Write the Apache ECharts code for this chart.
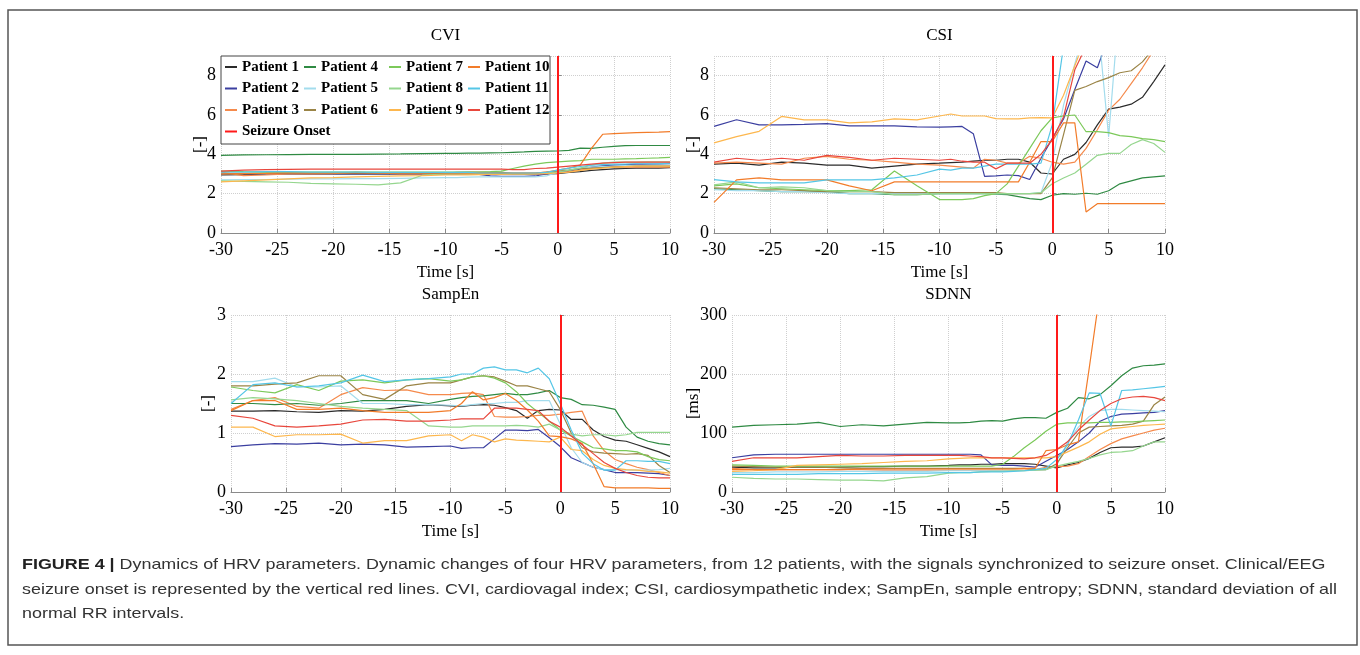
<!DOCTYPE html>
<html>
<head>
<meta charset="utf-8">
<title>Dynamics of HRV parameters</title>
<script src="https://cdn.jsdelivr.net/npm/echarts@6/dist/echarts.min.js"></script>
<style>
  html, body { margin: 0; padding: 0; background: #fff; }
  #chart { width: 1360px; height: 655px; }
</style>
</head>
<body>
<div id="chart"></div>
<script>
// time axis (s), synced to seizure onset
const times = [-30, -28, -26, -24, -22, -20, -18, -16, -14, -12, -10,
  -9, -8, -7, -6, -5, -4, -3, -2, -1, 0,
  1, 2, 3, 4, 5, 6, 7, 8, 9, 10];
const onsetTime = 0;

const patients = ['Patient 1', 'Patient 2', 'Patient 3', 'Patient 4', 'Patient 5', 'Patient 6',
  'Patient 7', 'Patient 8', 'Patient 9', 'Patient 10', 'Patient 11', 'Patient 12'];
const patientColors = ['#2b2b2b', '#3b3fa0', '#f58a4c', '#2f8a43', '#a3dced', '#9a8446',
  '#7cc95a', '#95d68e', '#fdb74e', '#f27c2a', '#55c6e6', '#e8473d'];
const onsetName = 'Seizure Onset';

// one row per patient (null = off the top of the axis)
const cviValues = [
  [2.95, 2.97, 3.0, 3.0, 3.0, 3.0, 3.02, 3.0, 3.0, 3.0, 3.0, 3.0, 3.0, 3.02, 3.02, 3.02, 3.0, 3.0, 3.0, 3.0, 3.02, 3.08, 3.12, 3.18, 3.22, 3.26, 3.28, 3.3, 3.3, 3.3, 3.32],
  [3.0, 3.0, 3.02, 3.02, 3.0, 3.0, 3.0, 3.0, 3.0, 3.0, 3.0, 3.0, 3.0, 2.98, 2.9, 2.88, 2.88, 2.88, 2.9, 3.0, 3.08, 3.15, 3.25, 3.35, 3.42, 3.45, 3.48, 3.5, 3.5, 3.5, 3.52],
  [3.1, 2.92, 2.95, 3.0, 3.0, 3.02, 3.1, 3.05, 3.0, 3.0, 3.0, 3.0, 3.02, 3.02, 3.02, 3.0, 3.0, 3.0, 3.0, 3.02, 3.05, 3.12, 3.2, 3.28, 3.32, 3.35, 3.35, 3.35, 3.35, 3.35, 3.35],
  [3.95, 3.97, 3.98, 3.99, 4.0, 4.0, 4.0, 4.01, 4.02, 4.04, 4.05, 4.05, 4.06, 4.06, 4.07, 4.08, 4.1, 4.12, 4.15, 4.16, 4.17, 4.2, 4.32, 4.3, 4.36, 4.4, 4.44, 4.45, 4.45, 4.45, 4.45],
  [2.7, 2.72, 2.72, 2.74, 2.75, 2.75, 2.76, 2.76, 2.78, 2.8, 2.82, 2.82, 2.84, 2.85, 2.85, 2.85, 2.85, 2.85, 2.85, 2.9, 3.1, 3.2, 3.3, 3.35, 3.38, 3.4, 3.42, 3.42, 3.44, 3.45, 3.45],
  [3.0, 3.02, 3.05, 3.05, 3.05, 3.05, 3.05, 3.05, 3.05, 3.05, 3.05, 3.08, 3.1, 3.1, 3.08, 3.08, 3.05, 3.05, 3.05, 3.1, 3.15, 3.2, 3.28, 3.3, 3.33, 3.36, 3.38, 3.4, 3.4, 3.4, 3.4],
  [3.15, 3.12, 3.1, 3.1, 3.1, 3.1, 3.1, 3.1, 3.1, 3.1, 3.1, 3.1, 3.1, 3.1, 3.12, 3.15, 3.28, 3.4, 3.5, 3.58, 3.62, 3.65, 3.68, 3.75, 3.75, 3.75, 3.77, 3.78, 3.8, 3.82, 3.85],
  [2.65, 2.62, 2.6, 2.58, 2.52, 2.5, 2.48, 2.45, 2.55, 2.95, 3.0, 3.0, 3.0, 3.0, 3.0, 3.0, 3.0, 3.0, 3.02, 3.05, 3.1, 3.2, 3.3, 3.45, 3.55, 3.6, 3.6, 3.6, 3.62, 3.62, 3.62],
  [2.6, 2.65, 2.7, 2.75, 2.8, 2.82, 2.85, 2.88, 2.9, 2.92, 2.95, 2.95, 2.96, 2.97, 2.98, 2.98, 3.0, 3.0, 3.02, 3.03, 3.05, 3.1, 3.18, 3.25, 3.3, 3.35, 3.38, 3.4, 3.4, 3.4, 3.4],
  [3.0, 3.02, 3.03, 3.05, 3.05, 3.05, 3.05, 3.05, 3.05, 3.05, 3.05, 3.05, 3.05, 3.05, 3.05, 3.05, 3.05, 3.05, 3.05, 3.1, 3.2, 3.3, 3.45, 4.3, 5.02, 5.05, 5.08, 5.1, 5.12, 5.13, 5.15],
  [3.1, 3.1, 3.12, 3.12, 3.1, 3.1, 3.1, 3.08, 3.08, 3.08, 3.08, 3.08, 3.08, 3.05, 3.05, 3.05, 3.05, 3.05, 3.05, 3.08, 3.2, 3.3, 3.38, 3.45, 3.48, 3.5, 3.5, 3.52, 3.52, 3.53, 3.55],
  [3.15, 3.2, 3.22, 3.24, 3.25, 3.25, 3.25, 3.25, 3.25, 3.25, 3.25, 3.25, 3.25, 3.25, 3.25, 3.25, 3.22, 3.22, 3.28, 3.3, 3.35, 3.4, 3.45, 3.5, 3.55, 3.58, 3.6, 3.6, 3.6, 3.6, 3.6]
];

const csiValues = [
  [3.5, 3.55, 3.45, 3.6, 3.55, 3.45, 3.45, 3.3, 3.4, 3.5, 3.55, 3.58, 3.6, 3.65, 3.7, 3.7, 3.75, 3.75, 3.6, 3.05, 3.0, 3.75, 4.0, 4.6, 5.5, 6.3, 6.4, 6.55, 6.9, 7.7, 8.55],
  [5.42, 5.76, 5.5, 5.5, 5.52, 5.56, 5.45, 5.45, 5.45, 5.4, 5.38, 5.4, 5.42, 5.05, 2.88, 2.9, 2.95, 2.92, 2.72, 3.8, 4.8, 5.8, 7.3, 8.75, 8.4, 10, null, null, null, null, null],
  [3.55, 3.6, 3.55, 3.5, 3.8, 3.9, 3.75, 3.7, 3.6, 3.5, 3.45, 3.4, 3.35, 3.3, 3.75, 3.7, 3.55, 3.55, 3.9, 3.8, 3.6, 3.5, 3.6, 4.3, 5.25, 6.25, 6.8, 7.6, 8.4, 9.3, null],
  [2.25, 2.2, 2.15, 2.1, 2.1, 2.1, 2.0, 2.0, 1.95, 1.95, 2.0, 2.0, 2.0, 2.0, 2.0, 1.98, 1.95, 1.85, 1.75, 1.7, 1.92, 2.0, 1.97, 2.02, 1.97, 2.15, 2.5, 2.65, 2.8, 2.85, 2.9],
  [2.2, 2.15, 2.15, 2.1, 2.1, 2.05, 2.0, 2.0, 2.0, 2.0, 2.0, 2.0, 2.0, 2.0, 2.0, 2.0, 2.0, 2.0, 2.0, 2.05, 3.6, 6.5, 8.6, 10.5, 11, 4.9, 12, null, null, null, null],
  [2.3, 2.25, 2.2, 2.2, 2.15, 2.1, 2.1, 2.1, 2.05, 2.05, 2.05, 2.05, 2.05, 2.05, 2.05, 2.05, 2.0, 2.0, 2.0, 2.0, 2.8, 5.0, 7.25, 7.45, 7.7, 7.9, 8.15, 8.25, 8.7, 9.4, null],
  [2.4, 2.5, 2.3, 2.25, 2.2, 2.15, 2.15, 2.2, 3.15, 2.4, 1.7, 1.7, 1.7, 1.75, 1.9, 2.0, 2.5, 3.4, 4.3, 5.2, 5.85, 5.95, 6.0, 5.15, 5.15, 5.1, 4.95, 4.9, 4.8, 4.75, 4.65],
  [2.45, 2.6, 2.3, 2.35, 2.3, 2.15, 2.1, 2.1, 1.95, 1.95, 2.0, 2.0, 2.0, 2.0, 2.0, 2.0, 2.0, 2.0, 2.0, 2.05, 2.5, 2.8, 3.05, 3.5, 3.95, 4.05, 4.05, 4.5, 4.75, 4.55, 4.1],
  [4.58, 4.9, 5.17, 5.93, 5.75, 5.75, 5.6, 5.65, 5.8, 5.75, 5.95, 6.05, 5.95, 5.95, 5.95, 5.82, 5.8, 5.8, 5.85, 5.87, 5.85, 7.0, 8.5, 10, null, null, null, null, null, null, null],
  [1.56, 2.7, 2.8, 2.7, 2.7, 2.7, 2.4, 2.15, 2.6, 2.6, 2.6, 2.6, 2.6, 2.6, 2.6, 2.6, 2.6, 2.6, 3.6, 4.65, 4.65, 5.6, 5.6, 1.07, 1.49, 1.49, 1.49, 1.49, 1.49, 1.49, 1.49],
  [2.71, 2.6, 2.55, 2.55, 2.55, 2.7, 2.7, 2.7, 2.8, 2.95, 3.25, 3.2, 3.3, 3.3, 3.4, 3.5, 3.5, 3.5, 3.5, 3.55, 5.5, 9.5, null, null, null, null, null, null, null, null, null],
  [3.6, 3.8, 3.7, 3.8, 3.7, 3.95, 3.85, 3.7, 3.8, 3.75, 3.7, 3.75, 3.65, 3.6, 3.6, 3.26, 3.55, 3.55, 3.55, 4.0, 4.75, 5.9, 8.3, 9.5, null, null, null, null, null, null, null]
];

const sampEnValues = [
  [1.37, 1.37, 1.38, 1.36, 1.35, 1.38, 1.37, 1.4, 1.45, 1.48, 1.46, 1.45, 1.47, 1.48, 1.47, 1.43, 1.38, 1.25, 1.38, 1.4, 1.39, 1.23, 1.23, 1.05, 0.94, 0.88, 0.86, 0.8, 0.74, 0.68, 0.6],
  [0.77, 0.8, 0.82, 0.81, 0.83, 0.8, 0.81, 0.8, 0.76, 0.77, 0.78, 0.74, 0.75, 0.75, 0.9, 1.05, 1.05, 1.04, 1.06, 0.92, 0.77, 0.58, 0.5, 0.42, 0.38, 0.33, 0.33, 0.33, 0.32, 0.31, 0.28],
  [1.4, 1.55, 1.6, 1.45, 1.42, 1.65, 1.77, 1.72, 1.73, 1.65, 1.65, 1.67, 1.68, 1.65, 1.28, 1.27, 1.27, 1.28, 1.3, 1.3, 1.32, 1.35, 1.37, 0.95, 0.7, 0.55, 0.48, 0.42, 0.38, 0.33, 0.28],
  [1.5, 1.5, 1.48, 1.5, 1.47, 1.5, 1.55, 1.55, 1.55, 1.5, 1.57, 1.6, 1.62, 1.63, 1.65, 1.67, 1.65, 1.65, 1.68, 1.72, 1.6, 1.57, 1.48, 1.47, 1.44, 1.4, 1.1, 0.93, 0.86, 0.82, 0.8],
  [1.87, 1.87, 1.93, 1.78, 1.78, 1.8, 1.5, 1.5, 1.48, 1.48, 1.47, 1.46, 1.48, 1.5, 1.5, 1.52, 1.52, 1.55, 1.55, 1.55, 1.15, 0.75, 0.5, 0.42, 0.38, 0.38, 0.37, 0.37, 0.37, 0.38, 0.4],
  [1.8, 1.8, 1.83, 1.85, 1.97, 1.97, 1.65, 1.57, 1.8, 1.85, 1.85, 1.9, 1.95, 1.97, 1.95, 1.88, 1.8, 1.8, 1.75, 1.7, 1.4, 1.0, 0.75, 0.68, 0.66, 0.65, 0.64, 0.65, 0.62, 0.45, 0.33],
  [1.78, 1.72, 1.68, 1.82, 1.72, 1.88, 1.9, 1.85, 1.9, 1.92, 1.88, 1.9, 1.95, 1.97, 1.93, 1.85, 1.7, 1.5, 1.35, 1.2, 1.05, 0.95, 0.85, 0.75, 0.73, 0.7, 0.7, 0.68, 0.6, 0.55, 0.53],
  [1.56, 1.6, 1.58, 1.55, 1.5, 1.45, 1.42, 1.4, 1.38, 1.12, 1.1, 1.1, 1.12, 1.12, 1.12, 1.12, 1.13, 1.12, 1.1, 1.15, 1.05, 0.98, 0.95, 0.97, 0.97, 0.95, 0.97, 1.01, 1.01, 1.01, 1.01],
  [1.1, 1.1, 0.94, 0.97, 0.97, 0.98, 0.83, 0.87, 0.87, 0.95, 0.97, 0.87, 0.97, 0.93, 0.85, 0.9, 0.88, 0.87, 0.86, 0.85, 0.93, 0.72, 0.7, 0.55, 0.45, 0.4, 0.38, 0.37, 0.35, 0.34, 0.32],
  [1.38, 1.55, 1.55, 1.4, 1.4, 1.42, 1.38, 1.35, 1.35, 1.35, 1.38, 1.5, 1.7, 1.56, 1.6, 1.67, 1.55, 1.39, 1.2, 0.95, 0.94, 0.9, 0.82, 0.48, 0.09, 0.07, 0.07, 0.07, 0.07, 0.06, 0.06],
  [1.5, 1.82, 1.85, 1.78, 1.8, 1.85, 1.98, 1.87, 1.9, 1.92, 1.95, 2.0, 2.0, 2.1, 2.12, 2.07, 2.07, 2.02, 2.1, 1.92, 1.5, 1.05, 0.66, 0.48, 0.37, 0.37, 0.53, 0.53, 0.52, 0.52, 0.48],
  [1.3, 1.25, 1.12, 1.1, 1.12, 1.15, 1.22, 1.23, 1.2, 1.2, 1.22, 1.24, 1.24, 1.24, 1.42, 1.42, 1.42, 1.4, 1.38, 1.2, 1.1, 0.95, 0.8, 0.65, 0.5, 0.4, 0.33, 0.28, 0.25, 0.24, 0.24]
];

const sdnnValues = [
  [42, 41, 41, 42, 42, 42, 43, 43, 44, 44, 45, 46, 46, 47, 47, 48, 48, 48, 47, 44, 41, 46, 50, 57, 67, 75, 76, 76, 78, 85, 92],
  [58, 63, 64, 64, 64, 64, 64, 64, 64, 64, 64, 64, 64, 63, 46, 45, 45, 44, 42, 52, 62, 72, 85, 100, 120, 128, 132, 133, 134, 135, 138],
  [40, 38, 38, 38, 38, 38, 38, 37, 37, 37, 37, 37, 37, 37, 37, 37, 37, 37, 38, 42, 43, 44, 48, 60, 72, 82, 90, 95, 100, 105, 108],
  [110, 113, 114, 115, 118, 111, 114, 112, 115, 118, 117, 117, 118, 120, 121, 120, 124, 126, 126, 125, 135, 142, 160, 158, 165, 180, 197, 210, 214, 215, 217],
  [33, 33, 34, 34, 34, 35, 35, 35, 35, 35, 36, 36, 36, 36, 36, 36, 36, 36, 37, 38, 45, 85, 110, 128, 138, 140, 140, 139, 138, 137, 136],
  [44, 43, 42, 42, 42, 41, 40, 40, 40, 40, 40, 40, 40, 40, 40, 40, 40, 40, 38, 38, 48, 75, 100, 110, 111, 112, 113, 115, 120, 148, 161],
  [46, 45, 44, 44, 44, 44, 44, 44, 44, 44, 44, 44, 44, 44, 44, 47, 60, 75, 88, 103, 115, 117, 117, 117, 118, 118, 119, 119, 120, 121, 122],
  [25, 23, 22, 22, 21, 20, 20, 19, 24, 26, 32, 33, 33, 34, 35, 35, 36, 36, 37, 38, 44, 48, 52, 57, 63, 67, 68, 70, 78, 85, 85],
  [35, 36, 38, 45, 46, 47, 48, 50, 52, 53, 56, 57, 58, 58, 58, 58, 58, 58, 58, 58, 60, 68, 76, 85, 98, 107, 109, 111, 113, 114, 115],
  [38, 38, 38, 38, 38, 38, 39, 39, 39, 39, 39, 39, 39, 39, 39, 39, 39, 40, 40, 70, 72, 80, 85, 210, 340, null, null, null, null, null, null],
  [30, 30, 30, 30, 31, 31, 31, 32, 32, 32, 33, 33, 33, 34, 34, 34, 35, 36, 38, 40, 55, 80, 122, 168, 167, 112, 172, 173, 175, 177, 179],
  [52, 58, 58, 58, 60, 62, 61, 61, 62, 62, 62, 62, 61, 60, 58, 58, 57, 56, 58, 62, 72, 85, 105, 122, 138, 150, 158, 161, 162, 160, 155]
];

const captionLines = [
  'Dynamics of HRV parameters. Dynamic changes of four HRV parameters, from 12 patients, with the signals synchronized to seizure onset. Clinical/EEG',
  'seizure onset is represented by the vertical red lines. CVI, cardiovagal index; CSI, cardiosympathetic index; SampEn, sample entropy; SDNN, standard deviation of all',
  'normal RR intervals.'
];

const serif = '"Liberation Serif", "Times New Roman", serif';
const sans = '"Liberation Sans", Arial, sans-serif';

const panels = [
  { title: 'CVI', unit: '[-]', values: cviValues, max: 9, interval: 2,
    grid: { left: 221, top: 56, width: 449, height: 177 }, nameGap: 12 },
  { title: 'CSI', unit: '[-]', values: csiValues, max: 9, interval: 2,
    grid: { left: 714, top: 56, width: 451, height: 177 }, nameGap: 12 },
  { title: 'SampEn', unit: '[-]', values: sampEnValues, max: 3, interval: 1,
    grid: { left: 231, top: 315, width: 439, height: 177 }, nameGap: 14 },
  { title: 'SDNN', unit: '[ms]', values: sdnnValues, max: 300, interval: 100,
    grid: { left: 732, top: 315, width: 433, height: 177 }, nameGap: 30 }
];

const axisGray = '#8a8a8a';
const grids = [], xAxes = [], yAxes = [], titles = [], series = [];

panels.forEach((p, i) => {
  grids.push(p.grid);
  titles.push({
    text: p.title,
    left: p.grid.left + p.grid.width / 2,
    top: p.grid.top - 29,
    textAlign: 'center',
    padding: 0,
    textStyle: { fontFamily: serif, fontSize: 17, fontWeight: 'normal', color: '#000' }
  });
  xAxes.push({
    gridIndex: i, type: 'value', min: -30, max: 10, interval: 5,
    name: 'Time [s]', nameLocation: 'middle', nameGap: 31, nameMoveOverlap: false,
    nameTextStyle: { fontFamily: serif, fontSize: 17, color: '#000' },
    axisLine: { lineStyle: { color: axisGray } },
    axisTick: { inside: true, length: 4, lineStyle: { color: axisGray } },
    axisLabel: { fontFamily: serif, fontSize: 18, color: '#000', margin: 8 },
    splitLine: { show: true, lineStyle: { type: 'dotted', color: '#cfcfcf' } }
  });
  yAxes.push({
    gridIndex: i, type: 'value', min: 0, max: p.max, interval: p.interval,
    name: p.unit, nameLocation: 'middle', nameRotate: 90, nameGap: p.nameGap,
    nameMoveOverlap: false,
    nameTextStyle: { fontFamily: serif, fontSize: 17, color: '#000' },
    axisLine: { show: true, lineStyle: { color: axisGray } },
    axisTick: { show: true, inside: true, length: 4, lineStyle: { color: axisGray } },
    axisLabel: { fontFamily: serif, fontSize: 18, color: '#000', margin: 5,
      showMaxLabel: p.max % p.interval === 0 },
    splitLine: { show: true, lineStyle: { type: 'dotted', color: '#cfcfcf' } }
  });
  p.values.forEach((row, k) => {
    series.push({
      name: patients[k], type: 'line', xAxisIndex: i, yAxisIndex: i,
      data: times.map((t, j) => [t, row[j]]),
      showSymbol: false, symbol: 'none', clip: true, silent: true,
      lineStyle: { width: 1.2, color: patientColors[k] },
      itemStyle: { color: patientColors[k] }
    });
  });
  series.push({
    name: onsetName, type: 'line', xAxisIndex: i, yAxisIndex: i, data: [],
    itemStyle: { color: '#ff1a1a' }, lineStyle: { color: '#ff1a1a' },
    markLine: {
      silent: true, symbol: 'none', label: { show: false },
      lineStyle: { color: '#ff1a1a', width: 2, type: 'solid' },
      data: [{ xAxis: onsetTime }]
    }
  });
});

const legendColumns = [
  ['Patient 1', 'Patient 2', 'Patient 3', onsetName],
  ['Patient 4', 'Patient 5', 'Patient 6'],
  ['Patient 7', 'Patient 8', 'Patient 9'],
  ['Patient 10', 'Patient 11', 'Patient 12']
];
const legendLefts = [225, 304, 389, 468];
const legends = legendColumns.map((col, c) => ({
  data: col, orient: 'vertical', left: legendLefts[c], top: 59,
  icon: 'rect', itemWidth: 12, itemHeight: 2, itemGap: 5.5, padding: 0,
  selectedMode: false, z: 20,
  textStyle: { fontFamily: serif, fontWeight: 'bold', fontSize: 15, color: '#000', lineHeight: 16 }
}));

// stretch caption so it spans the frame width like the original
const ctx = document.createElement('canvas').getContext('2d');
ctx.font = '15px ' + sans;
const captionScale = 1315 / ctx.measureText(captionLines[1]).width;
const captionY = [565, 590, 614];
const captionText = captionLines.map((line, n) => ({
  type: 'text', x: 22, y: captionY[n], scaleX: captionScale, z: 5,
  style: {
    text: n === 0 ? '{b|FIGURE 4 |} ' + line : line,
    rich: { b: { fontWeight: 'bold', fontFamily: sans, fontSize: 15, fill: '#222' } },
    fontFamily: sans, fontSize: 15, fill: '#333', verticalAlign: 'middle'
  }
}));

const chart = echarts.init(document.getElementById('chart'));
chart.setOption({
  backgroundColor: '#fff',
  animation: false,
  title: titles,
  legend: legends,
  grid: grids,
  xAxis: xAxes,
  yAxis: yAxes,
  series: series,
  graphic: [
    { type: 'rect', z: 1, shape: { x: 8, y: 10, width: 1349, height: 635 },
      style: { fill: 'none', stroke: '#555', lineWidth: 1.5 } },
    { type: 'rect', z: 10, shape: { x: 221, y: 56, width: 329, height: 88 },
      style: { fill: '#fff', stroke: '#444', lineWidth: 1 } }
  ].concat(captionText)
});
</script>
</body>
</html>
